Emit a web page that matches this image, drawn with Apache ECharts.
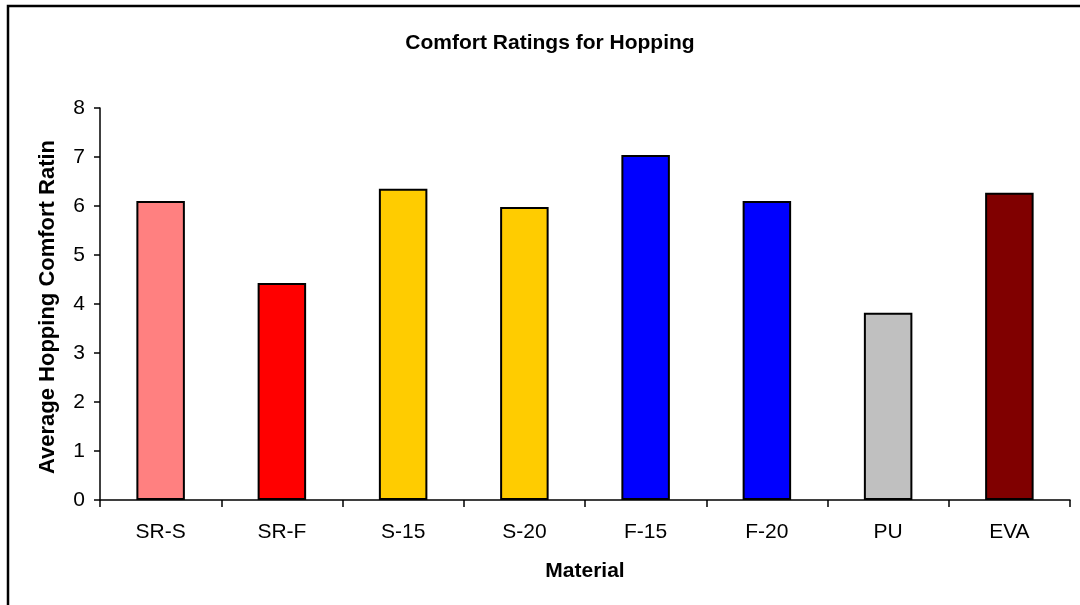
<!DOCTYPE html>
<html>
<head>
<meta charset="utf-8">
<style>
  html, body { margin: 0; padding: 0; background: #ffffff; }
  #chart { width: 1080px; height: 605px; }
</style>
<script src="https://cdn.jsdelivr.net/npm/echarts@6/dist/echarts.min.js"></script>
</head>
<body>
<div id="chart"></div>
<script>
// Materials and their average hopping comfort ratings
const materials = ['SR-S', 'SR-F', 'S-15', 'S-20', 'F-15', 'F-20', 'PU', 'EVA'];
const ratings = [6.1, 4.43, 6.35, 5.98, 7.04, 6.1, 3.82, 6.27];
const barColors = ['#FF8080', '#FF0000', '#FFCC00', '#FFCC00', '#0000FF', '#0000FF', '#C0C0C0', '#800000'];
const yTicks = { min: 0, max: 8, interval: 1 };

const font = 'Arial, "Liberation Sans", Helvetica, sans-serif';
const chart = echarts.init(document.getElementById('chart'), null, { renderer: 'canvas' });

chart.setOption({
  backgroundColor: '#ffffff',
  animation: false,
  title: {
    text: 'Comfort Ratings for Hopping',
    left: 545,
    textAlign: 'center',
    top: 28,
    textStyle: { fontFamily: font, fontSize: 21, fontWeight: 'bold', color: '#000' }
  },
  graphic: [{
    type: 'rect',
    shape: { x: 8, y: 6, width: 1200, height: 800 },
    style: { fill: 'none', stroke: '#000', lineWidth: 2.5 },
    silent: true
  }],
  grid: { left: 100, right: 10, top: 108, bottom: 105 },
  xAxis: {
    type: 'category',
    data: materials,
    name: 'Material',
    nameLocation: 'middle',
    nameGap: 61,
    nameTextStyle: { fontFamily: font, fontSize: 21, fontWeight: 'bold', color: '#000' },
    axisLine: { lineStyle: { color: '#000', width: 1.5 } },
    axisTick: { show: true, length: 7, lineStyle: { color: '#000', width: 1.5 } },
    axisLabel: { margin: 22, fontFamily: font, fontSize: 21, color: '#000' },
    splitLine: { show: false }
  },
  yAxis: {
    type: 'value',
    min: yTicks.min,
    max: yTicks.max,
    interval: yTicks.interval,
    name: 'Average Hopping Comfort Rating',
    nameLocation: 'middle',
    nameGap: 41,
    nameTruncate: { maxWidth: 337, ellipsis: '' },
    nameTextStyle: {
      fontFamily: font, fontSize: 22, fontWeight: 'bold', color: '#000',
      padding: [0, 6, 0, 0]
    },
    axisLine: { show: true, lineStyle: { color: '#000', width: 1.5 } },
    axisTick: { show: true, length: 6, lineStyle: { color: '#000', width: 1.5 } },
    axisLabel: { margin: 15, fontFamily: font, fontSize: 21, color: '#000' },
    splitLine: { show: false }
  },
  series: [{
    type: 'bar',
    barWidth: '40%',
    data: ratings.map((v, i) => ({
      value: v,
      itemStyle: { color: barColors[i], borderColor: '#000', borderWidth: 2 }
    }))
  }]
});
</script>
</body>
</html>
